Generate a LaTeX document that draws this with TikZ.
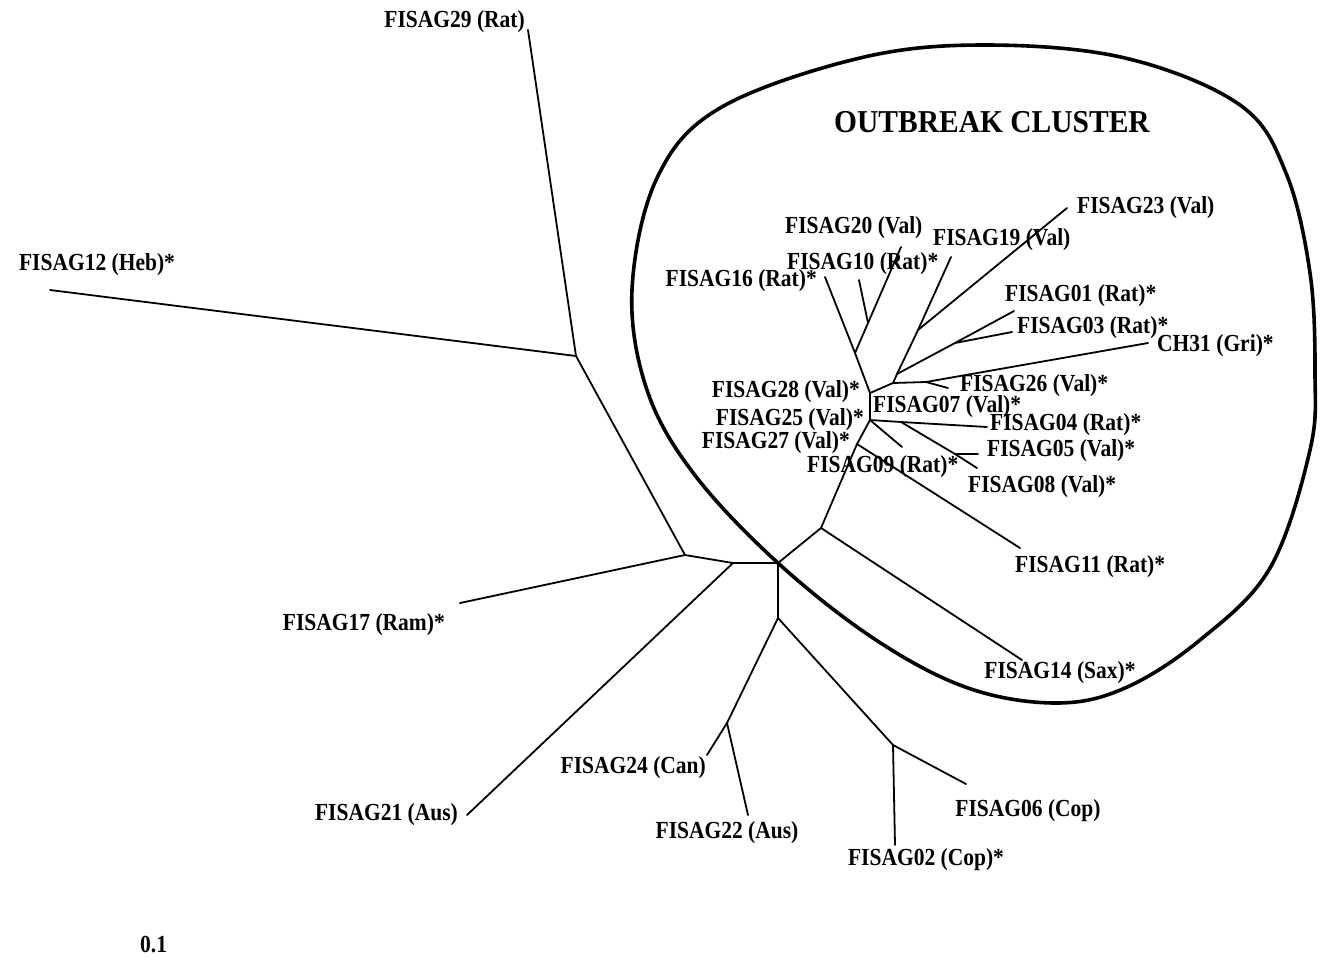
\documentclass[tikz,border=0pt]{standalone}
\usepackage{fontspec}
\setmainfont{Liberation Serif}
\newcommand{\tall}[1]{\scalebox{1}[1.14]{#1}}
\begin{document}
\begin{tikzpicture}[x=1pt,y=-1pt,
  br/.style={line width=1.8pt, line cap=round, line join=round},
  rim/.style={line width=3.6pt},
  lab/.style={font=\bfseries\fontsize{21.5}{24}\selectfont, inner sep=0pt},
  ttl/.style={font=\bfseries\fontsize{29.5}{32}\selectfont, inner sep=0pt}]
\useasboundingbox (0,0) rectangle (1322,962);
% internal nodes and tips
\coordinate (A) at (576,356);
\coordinate (t29) at (528,30);
\coordinate (t12) at (50,290);
\coordinate (B) at (685,555);
\coordinate (t17) at (460,603);
\coordinate (D) at (733,563);
\coordinate (t21) at (467,815);
\coordinate (E) at (778,563);
\coordinate (G) at (778,618);
\coordinate (H) at (727,723);
\coordinate (t24) at (707,755);
\coordinate (t22) at (748,815);
\coordinate (I) at (893,745);
\coordinate (t02) at (895,845);
\coordinate (t06) at (966,784);
\coordinate (F) at (821,528);
\coordinate (t14) at (1022,660);
\coordinate (U) at (857,444);
\coordinate (t11) at (1020,548);
\coordinate (K) at (870,420);
\coordinate (J) at (870,393);
\coordinate (t09) at (902,447);
\coordinate (V) at (901,422);
\coordinate (t04) at (987,427);
\coordinate (W) at (955,454);
\coordinate (t08) at (977,468);
\coordinate (t05) at (978,454);
\coordinate (M) at (855,353);
\coordinate (t16) at (825,277);
\coordinate (N) at (868,323);
\coordinate (t10) at (859,280);
\coordinate (t20) at (901,247);
\coordinate (O) at (893,383);
\coordinate (T) at (926,382);
\coordinate (t31) at (1148,343);
\coordinate (t26) at (948,388);
\coordinate (P) at (897,374);
\coordinate (R) at (918,330);
\coordinate (t19) at (951,257);
\coordinate (t23) at (1067,208);
\coordinate (Q) at (955,343);
\coordinate (t01) at (1014,311);
\coordinate (t03) at (1012,332);
% branches
\draw[br] (t29) -- (A) -- (t12);
\draw[br] (A) -- (B) -- (t17);
\draw[br] (B) -- (D) -- (t21);
\draw[br] (D) -- (E) -- (G) -- (H) -- (t24);
\draw[br] (H) -- (t22);
\draw[br] (G) -- (I) -- (t02);
\draw[br] (I) -- (t06);
\draw[br] (E) -- (F) -- (t14);
\draw[br] (F) -- (U) -- (t11);
\draw[br] (U) -- (K) -- (J);
\draw[br] (K) -- (t09);
\draw[br] (K) -- (V) -- (t04);
\draw[br] (V) -- (W) -- (t08);
\draw[br] (W) -- (t05);
\draw[br] (J) -- (M) -- (t16);
\draw[br] (M) -- (N) -- (t20);
\draw[br] (N) -- (t10);
\draw[br] (J) -- (O) -- (T) -- (t31);
\draw[br] (T) -- (t26);
\draw[br] (O) -- (P) -- (R) -- (t19);
\draw[br] (R) -- (t23);
\draw[br] (P) -- (Q) -- (t01);
\draw[br] (Q) -- (t03);
% cluster outline
\draw[rim] plot[smooth cycle, tension=0.6] coordinates {
  (985,45) (1125,58) (1240,105) (1286,173) (1310,273) (1315,373) (1310,450)
  (1270,568) (1200,640) (1125,688) (1056,703) (968,688) (876,640) (778,563)
  (694,474) (647,390) (632,290) (657,178) (720,108) (860,58)};
% labels
\node[lab, anchor=east] (l29) at (525,22) {\tall{FISAG29 (Rat)}};
\node[lab] (l12) at (97,265) {\tall{FISAG12 (Heb)*}};
\node[lab, anchor=east] (l17) at (445,625) {\tall{FISAG17 (Ram)*}};
\node[lab, anchor=east] (l21) at (458,815) {\tall{FISAG21 (Aus)}};
\node[lab, anchor=east] (l24) at (706,768) {\tall{FISAG24 (Can)}};
\node[lab] (l22) at (727,833) {\tall{FISAG22 (Aus)}};
\node[lab] (l02) at (926,860) {\tall{FISAG02 (Cop)*}};
\node[lab] (l06) at (1028,811) {\tall{FISAG06 (Cop)}};
\node[lab] (l14) at (1060,673) {\tall{FISAG14 (Sax)*}};
\node[lab, anchor=west] (l11) at (1015,567) {\tall{FISAG11 (Rat)*}};
\node[lab, anchor=west] (l08) at (968,487) {\tall{FISAG08 (Val)*}};
\node[lab, anchor=west] (l05) at (987,451) {\tall{FISAG05 (Val)*}};
\node[lab, anchor=west] (l04) at (990,425) {\tall{FISAG04 (Rat)*}};
\node[lab, anchor=west] (l07) at (873,407) {\tall{FISAG07 (Val)*}};
\node[lab, anchor=west] (l26) at (960,386) {\tall{FISAG26 (Val)*}};
\node[lab, anchor=west] (l31) at (1157,346) {\tall{CH31 (Gri)*}};
\node[lab, anchor=west] (l03) at (1017,328) {\tall{FISAG03 (Rat)*}};
\node[lab, anchor=west] (l01) at (1005,296) {\tall{FISAG01 (Rat)*}};
\node[lab, anchor=west] (l23) at (1077,208) {\tall{FISAG23 (Val)}};
\node[lab, anchor=west] (l19) at (933,240) {\tall{FISAG19 (Val)}};
\node[lab, anchor=west] (l20) at (785,228) {\tall{FISAG20 (Val)}};
\node[lab, anchor=west] (l10) at (787,264) {\tall{FISAG10 (Rat)*}};
\node[lab, anchor=east] (l16) at (817,281) {\tall{FISAG16 (Rat)*}};
\node[lab, anchor=east] (l28) at (860,392) {\tall{FISAG28 (Val)*}};
\node[lab, anchor=east] (l25) at (864,420) {\tall{FISAG25 (Val)*}};
\node[lab, anchor=east] (l27) at (850,443) {\tall{FISAG27 (Val)*}};
\node[lab, anchor=west] (l09) at (807,467) {\tall{FISAG09 (Rat)*}};
\node[ttl] (title) at (992,122) {\scalebox{1}[1.08]{OUTBREAK CLUSTER}};
\node[lab, anchor=west] (scale) at (140,945) {\tall{0.1}};
\end{tikzpicture}
\end{document}
